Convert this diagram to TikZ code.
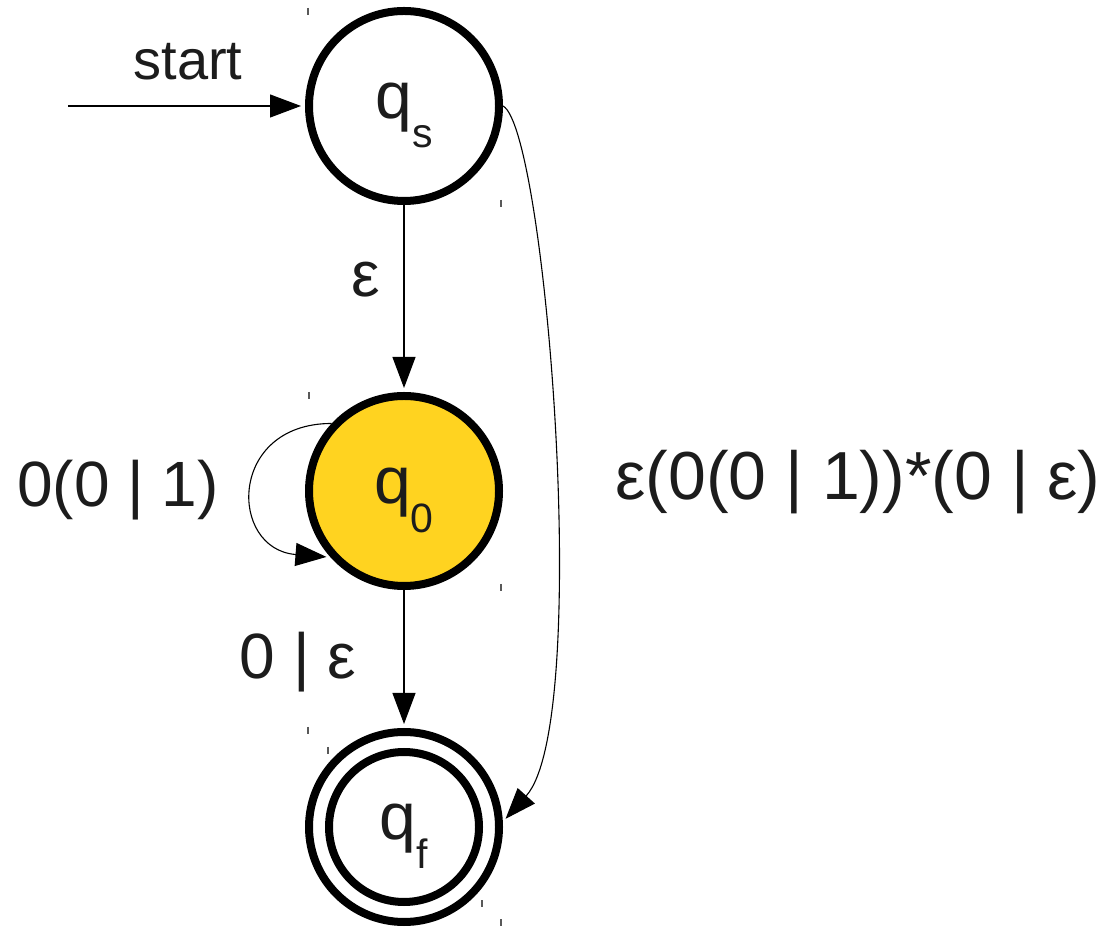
\documentclass[tikz,border=0pt]{standalone}
\usepackage{fontspec}
\setmainfont{Liberation Sans}
\usetikzlibrary{arrows.meta}
\definecolor{stfill}{RGB}{255,211,32}
\definecolor{txt}{RGB}{28,28,28}
\newcommand\statelab[2]{\rule{0pt}{54pt}#1\raisebox{-29pt}{\fontsize{41}{41}\selectfont #2}}
\begin{document}
\begin{tikzpicture}[x=1pt,y=1pt,
  state/.style={circle, draw=black, line width=8pt, minimum size=190pt, inner sep=0pt,
                font=\fontsize{66}{66}\selectfont, text=txt},
  innerring/.style={circle, draw=black, line width=8pt, minimum size=150pt, inner sep=0pt},
  edge/.style={line width=1.1pt, draw=black, shorten >=4pt,
               -{Triangle[length=31pt,width=23pt]}},
  lab/.style={font=\fontsize{64}{64}\selectfont, text=txt, inner sep=0pt},
  biglab/.style={font=\fontsize{68}{68}\selectfont, text=txt, inner sep=0pt},
  smalllab/.style={font=\fontsize{56}{56}\selectfont, text=txt, inner sep=0pt},
  tickmark/.style={line width=1.2pt, draw=black!65}]
\useasboundingbox (0,0) rectangle (1115,928);

% states
\node[state] (qs) at (404,822) {\statelab{q}{s}};
\node[state, fill=stfill] (q0) at (404,437) {\statelab{q}{0}};
\node[state] (qf) at (404,101) {\statelab{q}{f}};
\node[innerring] (qfin) at (qf.center) {};

% start arrow
\coordinate (st) at (68,822);
\draw[edge] (st) -- (qs.west);
\node[smalllab] (lstart) at (188,866) {start};

% qs -> q0
\draw[edge] (qs.south) -- (q0.north);
\node[lab] (leps) at (366,648) {ε};

% q0 -> qf
\draw[edge] (q0.south) -- (qf.north);
\node[lab] (l0e) at (298,266) {0 | ε};

% loop on q0
\draw[edge] (q0.137) .. controls +(-104,0) and +(-102,8) .. (q0.222);
\node[lab] (lloop) at (118,438) {0(0 | 1)};

% qs -> qf
\draw[edge] (qs.0) .. controls +(43,-23) and +(90,100) .. (qf.3);
\node[biglab] (lbig) at (858,446) {ε(0(0 | 1))*(0 | ε)};

% small corner ticks
\draw[tickmark] (308,920) -- (308,913);
\draw[tickmark] (501,728) -- (501,721);
\draw[tickmark] (309,536) -- (309,529);
\draw[tickmark] (501,344) -- (501,337);
\draw[tickmark] (308,201) -- (308,194);
\draw[tickmark] (328,181) -- (328,174);
\draw[tickmark] (482,28) -- (482,21);
\draw[tickmark] (501,9) -- (501,2);
\end{tikzpicture}
\end{document}
